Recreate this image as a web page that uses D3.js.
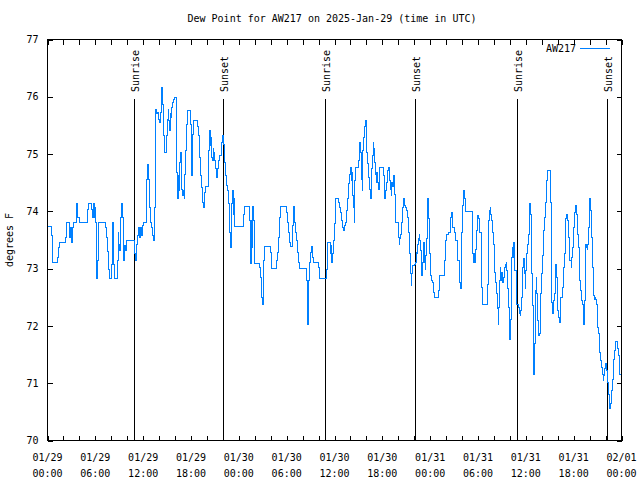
<!DOCTYPE html>
<html><head><meta charset="utf-8">
<script src="https://cdn.jsdelivr.net/npm/d3@7"></script>
<style>
body{margin:0;background:#fff}
svg{display:block}
text{font-family:"DejaVu Sans Mono",monospace;font-size:10px;fill:#000}
</style>
</head><body>
<svg id="chart" width="640" height="480"></svg>
<script>
// ---- DATA ----
const titleText = "Dew Point for AW217 on 2025-Jan-29 (time in UTC)";
const seriesName = "AW217";
const yLabel = "degrees F";
const startDate = Date.UTC(2025, 0, 29, 0, 0);
const spanHours = 72;
const yTicks = [70, 71, 72, 73, 74, 75, 76, 77];
const xTickHours = [0, 2, 4, 6, 8, 10, 12, 14, 16, 18, 20, 22, 24, 26, 28, 30, 32, 34, 36, 38, 40, 42, 44, 46, 48, 50, 52, 54, 56, 58, 60, 62, 64, 66, 68, 70, 72];
const xLabelHours = [0, 6, 12, 18, 24, 30, 36, 42, 48, 54, 60, 66, 72];
const eventLabels = ["Sunrise", "Sunset", "Sunrise", "Sunset", "Sunrise", "Sunset"];
const eventHours = [10.92, 22.09, 34.88, 46.17, 58.97, 70.26];

// hours since 2025-01-29 00:00 UTC
const hours = [
0.00,0.42,0.50,0.59,0.63,1.17,1.26,1.38,1.46,2.18,2.26,2.38,2.43,2.68,2.80,2.93,3.01,3.10,3.26,3.51,
3.60,3.68,3.81,3.97,4.94,5.06,5.19,5.44,5.52,5.65,5.77,5.86,5.94,6.07,6.19,6.28,6.36,6.44,7.20,7.32,
7.45,7.53,7.66,7.74,7.95,8.03,8.20,8.33,8.45,8.70,8.79,8.87,8.95,9.04,9.12,9.21,9.33,9.41,9.58,9.67,
9.75,9.87,10.79,10.88,10.96,11.05,11.13,11.21,11.34,11.46,11.59,11.72,11.84,11.97,12.09,12.26,12.38,12.47,12.59,12.68,
12.76,12.97,13.10,13.22,13.35,13.39,13.51,13.60,13.72,13.81,13.93,14.06,14.18,14.27,14.35,
14.43,14.56,14.64,14.85,14.93,15.06,15.14,15.23,15.31,15.39,15.52,15.60,15.73,15.85,15.98,16.10,16.15,16.23,16.31,16.40,
16.48,16.61,16.69,16.77,16.86,16.98,17.07,17.15,17.23,17.36,17.48,17.57,17.82,17.90,18.03,18.11,18.20,18.32,18.78,18.87,
18.99,19.12,19.24,19.37,19.49,19.62,19.70,19.83,20.12,20.20,20.33,20.41,20.50,20.62,20.71,20.79,20.87,20.96,21.08,21.21,
21.29,21.42,21.54,21.75,21.84,21.92,22.00,22.09,22.17,22.30,22.42,22.59,22.67,22.76,22.88,22.97,23.05,23.17,23.30,23.38,
23.51,24.47,24.60,24.72,25.27,25.39,25.48,25.56,25.64,25.73,25.85,25.94,26.02,26.52,26.61,26.73,26.81,26.90,26.98,27.07,
27.15,27.28,27.82,27.94,28.07,28.15,28.66,28.74,
28.86,28.94,29.07,29.19,29.91,30.03,30.16,30.28,30.41,30.49,30.66,30.74,30.87,30.95,31.04,31.16,31.29,31.41,31.54,31.66,
32.42,32.50,32.58,32.67,32.75,32.83,32.92,33.04,33.13,33.21,33.30,33.38,33.88,34.01,34.13,34.93,35.01,35.09,35.18,35.39,
35.47,35.60,35.68,35.76,35.85,35.97,36.10,36.18,36.43,36.52,36.64,36.77,36.89,37.02,37.14,37.23,37.35,37.48,37.60,37.73,
37.86,37.98,38.11,38.23,38.32,38.40,38.48,38.57,38.69,38.94,39.03,39.11,39.19,39.28,39.36,39.45,39.57,39.70,39.82,39.91,
39.99,40.07,40.16,40.28,40.41,40.49,40.58,40.66,40.74,40.87,40.95,41.04,41.12,41.24,41.33,41.41,41.50,41.62,42.04,42.12,
42.21,42.29,42.37,42.46,42.54,42.63,42.75,42.84,42.92,43.00,43.13,43.21,
43.29,43.37,43.46,43.54,43.62,43.71,43.96,44.04,44.13,44.21,44.34,44.46,44.59,44.71,44.80,44.88,45.09,45.21,45.34,45.47,
45.55,45.63,45.72,45.84,46.09,46.22,46.30,46.39,46.47,46.55,46.64,46.72,46.80,46.89,46.97,47.06,47.14,47.22,47.31,47.39,
47.47,47.56,47.64,47.72,47.81,47.89,47.98,48.10,48.19,48.31,48.39,48.52,48.94,49.02,49.15,49.69,49.82,49.90,49.98,50.11,
50.24,50.40,50.49,50.61,50.70,50.78,50.86,50.99,51.11,51.24,51.37,51.49,51.62,51.70,51.78,51.87,51.95,52.03,52.12,52.20,
52.29,52.37,52.45,53.21,53.29,53.37,53.46,53.54,53.62,53.71,53.79,53.88,53.96,54.04,54.13,54.25,54.38,54.46,54.55,55.05,
55.13,55.26,55.34,55.42,55.51,55.59,55.68,55.80,55.93,56.01,56.09,56.22,56.34,56.43,56.51,56.60,56.68,56.76,56.85,56.93,
57.01,57.10,57.18,57.27,57.35,57.43,57.52,57.60,57.68,
57.72,57.80,57.89,57.97,58.05,58.14,58.22,58.31,58.39,58.47,58.56,58.64,58.77,58.89,59.02,59.10,59.18,59.27,59.35,59.44,
59.52,59.60,59.69,59.77,59.85,59.94,60.02,60.11,60.23,60.31,60.40,60.48,60.57,60.65,60.73,60.82,60.90,60.98,61.07,61.15,
61.23,61.32,61.40,61.49,61.57,61.74,61.82,61.90,61.99,62.07,62.16,62.24,62.32,62.41,62.53,62.62,62.70,62.99,63.08,63.16,
63.24,63.33,63.41,63.49,63.58,63.66,63.75,63.83,63.91,64.00,64.08,64.16,64.25,64.33,64.41,64.58,64.67,64.75,64.83,64.92,
65.00,65.08,65.17,65.25,65.33,65.42,65.50,65.67,65.75,65.83,65.92,66.00,66.08,66.26,66.34,66.42,66.51,66.59,66.68,66.76,
66.85,66.93,67.01,67.09,67.18,67.26,67.34,67.43,67.51,67.59,67.68,67.76,67.85,67.93,68.01,68.10,68.18,68.26,68.35,68.43,
68.51,68.60,68.68,68.77,68.85,68.93,69.02,69.10,69.18,69.27,69.35,69.44,69.52,69.60,69.69,69.77,69.85,69.94,70.02,70.10,
70.19,70.27,70.36,70.44,70.52,70.61,70.69,70.77,70.86,70.94,71.03,71.11,71.19,71.28,71.44,71.53,71.61,71.69,71.78,72.00
];
const dewpoint = [
73.73,73.73,73.58,73.27,73.10,73.10,73.20,73.37,73.45,73.45,73.55,73.72,73.80,73.80,73.55,73.72,73.45,73.72,73.80,73.80,
74.04,74.13,73.90,73.80,73.80,74.04,74.13,74.13,74.04,73.90,74.13,73.90,74.07,73.80,72.82,73.14,73.55,73.80,73.80,73.72,
73.55,73.30,72.99,72.82,72.82,73.08,73.80,73.08,72.82,72.82,73.14,73.63,73.31,73.43,73.31,73.90,74.13,73.90,73.14,73.40,
73.31,73.50,73.50,73.43,73.26,73.14,73.26,73.43,73.58,73.72,73.55,73.72,73.58,73.75,73.81,73.81,74.07,74.55,74.81,74.55,
74.07,73.81,73.72,73.58,73.50,74.07,75.20,75.77,75.70,75.73,75.61,75.55,75.73,76.00,76.16,
75.86,75.32,75.03,75.03,75.32,75.61,75.78,75.58,75.41,75.70,75.64,75.81,75.90,75.96,75.99,75.99,75.52,74.68,74.22,74.62,
74.36,74.85,75.03,74.71,74.39,74.27,74.36,74.22,74.65,75.06,75.52,75.76,75.76,75.52,74.91,74.62,75.35,75.59,75.59,75.49,
75.32,74.94,74.62,74.42,74.16,74.07,74.33,74.43,74.43,75.06,75.41,75.15,75.29,74.94,74.88,75.09,75.03,74.88,74.74,74.59,
74.74,74.88,74.97,74.97,75.20,75.23,75.32,75.17,74.85,74.62,74.45,74.36,74.36,74.13,73.63,73.37,74.13,74.36,73.95,74.22,
73.73,73.73,73.95,74.08,74.08,73.84,73.09,73.84,73.37,74.08,73.84,73.37,73.09,73.09,73.02,72.85,72.67,72.50,72.38,72.64,
73.14,73.38,73.38,73.28,73.11,73.01,73.01,73.14,
73.28,73.55,73.90,74.08,74.08,73.98,73.81,73.63,73.46,73.38,73.38,73.75,74.08,73.98,73.81,73.63,73.49,73.28,73.11,73.01,
73.01,72.79,72.30,72.03,72.79,72.79,73.11,73.28,73.38,73.28,73.20,73.10,73.10,73.02,72.82,72.82,72.99,73.31,73.45,73.45,
73.26,73.40,73.11,73.26,73.49,73.78,74.07,74.22,74.22,74.16,74.07,73.98,73.84,73.72,73.66,73.75,73.81,74.01,74.22,74.48,
74.65,74.77,74.53,74.68,74.27,74.07,73.81,74.53,74.77,74.77,74.88,75.09,75.20,75.03,74.56,74.36,75.06,75.29,75.49,75.59,
75.49,75.03,74.83,74.59,74.39,74.22,74.53,74.74,74.97,75.20,75.09,74.85,74.65,74.50,74.68,74.50,74.39,74.77,74.77,74.62,
74.33,74.22,74.36,74.39,74.50,74.71,74.77,74.71,74.53,74.39,74.27,74.50,
74.43,74.50,74.62,74.30,74.01,73.81,73.81,73.55,73.43,73.52,73.60,73.81,74.07,74.22,74.10,74.07,74.01,73.90,73.63,73.26,
72.91,72.70,72.91,73.05,73.08,73.11,73.28,73.26,73.43,73.52,73.60,73.49,73.31,73.05,72.88,73.11,73.31,73.46,73.11,72.99,
73.23,73.52,73.87,74.22,73.87,73.26,72.88,72.88,72.79,72.76,72.59,72.50,72.50,72.62,72.88,72.88,73.14,73.31,73.49,73.60,
73.63,73.63,73.78,73.90,73.98,73.90,73.72,73.63,73.63,73.49,73.26,73.14,72.97,72.76,72.65,73.14,73.63,74.10,74.24,74.36,
74.22,74.10,74.00,74.00,73.78,73.26,73.11,73.26,73.11,73.34,73.66,73.84,73.92,73.87,73.78,73.63,73.31,72.67,72.38,72.38,
72.73,73.37,73.84,74.01,74.07,73.95,73.84,73.63,73.43,73.17,72.93,72.76,72.56,72.30,72.03,72.33,72.79,73.02,72.88,72.79,
72.93,72.76,72.85,72.91,73.02,73.08,73.11,72.97,72.85,
72.65,72.33,71.98,71.77,72.12,72.76,73.20,73.37,73.20,73.46,73.20,72.97,72.56,72.38,72.38,72.33,72.21,72.18,72.27,72.50,
72.70,73.02,73.17,73.14,72.91,72.65,72.97,73.26,73.43,73.60,73.95,74.13,73.95,73.49,72.91,72.36,71.74,71.16,71.69,72.21,
72.62,72.85,72.56,72.09,71.83,71.86,72.27,72.56,72.91,73.23,73.49,73.66,73.90,74.16,74.36,74.53,74.71,74.71,74.16,73.52,
72.41,72.21,72.27,72.44,72.56,72.85,73.08,72.85,72.50,72.27,72.21,72.15,72.06,72.27,72.50,72.67,72.91,73.02,73.26,73.55,
73.87,73.95,73.90,73.84,73.55,73.26,73.14,73.02,73.20,73.37,73.55,73.72,73.98,74.10,73.95,73.90,73.60,73.37,73.14,72.79,
72.62,72.47,72.44,72.38,72.21,72.03,72.44,73.08,73.43,73.37,73.34,73.43,73.72,73.95,74.22,74.01,73.84,73.55,73.02,72.73,
72.53,72.47,72.50,72.47,72.38,72.21,71.98,71.86,71.69,71.54,71.40,71.34,71.28,71.16,71.05,71.13,71.25,71.31,71.34,71.22,
71.05,71.02,70.81,70.67,70.55,70.64,70.78,70.87,71.07,71.25,71.42,71.57,71.69,71.72,71.69,71.60,71.48,71.31,71.16,71.16
];

// ---- CHART ----
const svg = d3.select("#chart");
const L = 47.5, R = 621.5, T = 39.5, B = 440.5;
const toDate = h => new Date(startDate + h * 3600e3);
const x = d3.scaleUtc().domain([toDate(0), toDate(spanHours)]).range([L, R]);
const y = d3.scaleLinear().domain([70, 77]).range([B, T]);

const data = hours.map((h, i) => ({t: toDate(h), v: dewpoint[i]}));

// axes (ticks inward)
const tickDates = xTickHours.map(toDate);
svg.append("g").attr("transform", `translate(0,${B})`)
  .call(d3.axisBottom(x).tickValues(tickDates).tickSizeInner(-5).tickSizeOuter(0).tickFormat(""))
  .call(g => { g.select(".domain").remove(); g.selectAll("line").attr("shape-rendering","crispEdges"); });
svg.append("g").attr("transform", `translate(0,${T})`)
  .call(d3.axisTop(x).tickValues(tickDates).tickSizeInner(-5).tickSizeOuter(0).tickFormat(""))
  .call(g => { g.select(".domain").remove(); g.selectAll("line").attr("shape-rendering","crispEdges"); });
svg.append("g").attr("transform", `translate(${L},0)`)
  .call(d3.axisLeft(y).tickValues(yTicks).tickSizeInner(-5).tickSizeOuter(0).tickPadding(9).tickFormat(d3.format("d")))
  .call(g => {
    g.select(".domain").remove();
    g.selectAll("line").attr("shape-rendering","crispEdges");
    g.selectAll("text").attr("font-family", null).attr("font-size", null).attr("fill","#000");
  });
svg.append("g").attr("transform", `translate(${R},0)`)
  .call(d3.axisRight(y).tickValues(yTicks).tickSizeInner(-5).tickSizeOuter(0).tickFormat(""))
  .call(g => { g.select(".domain").remove(); g.selectAll("line").attr("shape-rendering","crispEdges"); });

// x labels, two lines
const fmtDay = d3.utcFormat("%m/%d"), fmtTime = d3.utcFormat("%H:%M");
const xl = svg.append("g").selectAll("text").data(xLabelHours.map(toDate)).join("text")
  .attr("text-anchor", "middle");
xl.append("tspan").attr("x", d => x(d)).attr("y", 461).text(d => fmtDay(d));
xl.append("tspan").attr("x", d => x(d)).attr("y", 477).text(d => fmtTime(d));

// sunrise / sunset markers
const ev = svg.append("g");
eventHours.forEach((h, i) => {
  const ex = Math.floor(x(toDate(h))) + 0.5;
  ev.append("line").attr("x1", ex).attr("x2", ex).attr("y1", 99).attr("y2", B)
    .attr("stroke", "#000").attr("stroke-width", 1).attr("shape-rendering", "crispEdges");
  ev.append("text").attr("transform", `translate(${ex + 4},92) rotate(-90)`)
    .attr("text-anchor", "start").text(eventLabels[i]);
});

// data line
const line = d3.line().x(d => x(d.t)).y(d => y(d.v)).curve(d3.curveStepAfter);
svg.append("path").datum(data).attr("d", line)
  .attr("fill", "none").attr("stroke", "#0080ff").attr("stroke-width", 1)
  .attr("shape-rendering", "crispEdges");

// border
svg.append("rect").attr("x", L).attr("y", T).attr("width", R - L).attr("height", B - T)
  .attr("fill", "none").attr("stroke", "#000").attr("stroke-width", 1).attr("shape-rendering", "crispEdges");

// title, y label
svg.append("text").attr("x", 332).attr("y", 22).attr("text-anchor", "middle").text(titleText);
svg.append("text").attr("transform", "translate(13,240) rotate(-90)").attr("text-anchor", "middle").text(yLabel);

// legend
svg.append("text").attr("x", 576).attr("y", 52).attr("text-anchor", "end").text(seriesName);
svg.append("line").attr("x1", 580).attr("x2", 610).attr("y1", 48.5).attr("y2", 48.5)
  .attr("stroke", "#0080ff").attr("stroke-width", 1).attr("shape-rendering", "crispEdges");
</script>
</body></html>
